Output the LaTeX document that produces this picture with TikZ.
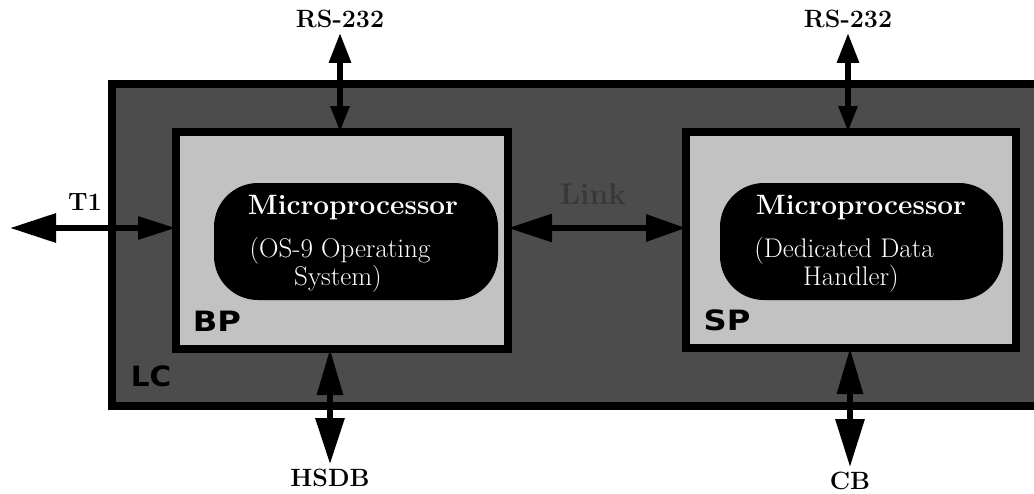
\documentclass[tikz,border=0pt]{standalone}
\usepackage{fontspec}
\usetikzlibrary{arrows.meta,calc}
\newfontfamily\heavyfont{DejaVu Sans}
\definecolor{lcfill}{gray}{0.30}
\definecolor{boxfill}{gray}{0.76}
\definecolor{linktext}{gray}{0.22}
\begin{document}
\begin{tikzpicture}[x=1pt,y=-1pt,
  frame/.style={draw=black, line width=8pt, rectangle, inner sep=0pt, outer sep=0pt},
  pill/.style={fill=black, rounded corners=44pt, inner sep=0pt, outer sep=0pt},
  cputitle/.style={text=white, inner sep=0pt, font=\bfseries\fontsize{28}{28}\selectfont},
  cpunote/.style={text=white, inner sep=0pt, font=\fontsize{27}{27}\selectfont\addfontfeature{LetterSpace=6}},
  tag/.style={font=\heavyfont\bfseries\fontsize{28}{28}\selectfont, inner sep=0pt},
  iolabel/.style={font=\bfseries\fontsize{25}{25}\selectfont, inner sep=2pt, outer sep=3pt},
  bus/.style={line width=6pt}
]
\useasboundingbox (0,0) rectangle (1034,493);

% outer LC enclosure
\node[frame, fill=lcfill, minimum width=930pt, minimum height=322pt] (lc) at (577,245) {};
% BP and SP boards
\node[frame, fill=boxfill, minimum width=332pt, minimum height=217pt] (bp) at (342,240.5) {};
\node[frame, fill=boxfill, minimum width=330pt, minimum height=216pt] (sp) at (851,240) {};

% microprocessor blocks
\node[pill, minimum width=284pt, minimum height=117pt] (bpcpu) at (356,241.5) {};
\node[pill, minimum width=283pt, minimum height=117pt] (spcpu) at (861.5,241.5) {};
\node[cputitle, anchor=base] (bpt1) at (353,214) {Microprocessor};
\node[cpunote, anchor=base] (bpt2) at (340,257) {(OS-9 Operating};
\node[cpunote, anchor=base] (bpt3) at (338,285) {System)};
\node[cputitle, anchor=base] (spt1) at (861,214) {Microprocessor};
\node[cpunote, anchor=base] (spt2) at (844,257) {(Dedicated Data};
\node[cpunote, anchor=base] (spt3) at (851,285) {Handler)};

% board tags
\node[tag] (bptag) at (217,321) {\scalebox{1.15}[1]{BP}};
\node[tag] (sptag) at (727,320) {\scalebox{1.15}[1]{SP}};
\node[tag] (lctag) at (151,376) {\scalebox{1.05}[1]{LC}};

% external interface labels
\node[iolabel] (rs1) at (340,19) {RS-232};
\node[iolabel] (rs2) at (848,19) {RS-232};
\node[iolabel] (hsdb) at (330,478) {HSDB};
\node[iolabel] (cb) at (850,481) {CB};
\node[iolabel] (t1) at (85,202) {T1};
\node[font=\bfseries\fontsize{30}{30}\selectfont, text=linktext] (link) at (593,194) {Link};

\coordinate (t1end) at (10,228);
\coordinate (hsdbtop) at (330,349);

% connectors
\draw[bus, {Triangle[length=30pt,width=21pt]}-{Triangle[length=26pt,width=18pt]}]
  (rs1.south) -- (rs1.south |- bp.north);
\draw[bus, {Triangle[length=30pt,width=21pt]}-{Triangle[length=26pt,width=18pt]}]
  (rs2.south) -- (rs2.south |- sp.north);
\draw[bus, {Triangle[length=46pt,width=28pt]}-{Triangle[length=38pt,width=22pt]}]
  (t1end) -- (t1end -| bp.west);
\draw[bus, {Triangle[length=44pt,width=27pt]}-{Triangle[length=40pt,width=26pt]}]
  (t1end -| bp.east) -- (t1end -| sp.west);
\draw[bus, {Triangle[length=46pt,width=25pt]}-{Triangle[length=46pt,width=28pt]}]
  (hsdbtop) -- (hsdb.north);
\draw[bus, {Triangle[length=46pt,width=25pt]}-{Triangle[length=48pt,width=28pt]}]
  (cb.north |- sp.south) -- (cb.north);
\end{tikzpicture}
\end{document}
